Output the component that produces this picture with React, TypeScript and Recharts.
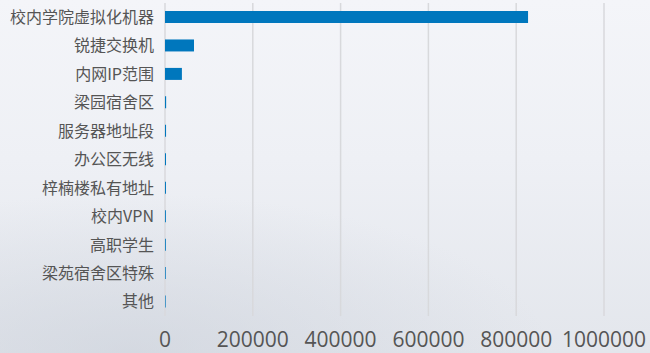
import { Bar, BarChart, CartesianGrid, XAxis, YAxis } from 'recharts';

const categories = [
  '校内学院虚拟化机器',
  '锐捷交换机',
  '内网IP范围',
  '梁园宿舍区',
  '服务器地址段',
  '办公区无线',
  '梓楠楼私有地址',
  '校内VPN',
  '高职学生',
  '梁苑宿舍区特殊',
  '其他',
];
const counts = [827000, 66000, 38500, 2600, 2400, 2300, 2200, 2000, 1900, 1700, 1500];
const xTicks = [0, 200000, 400000, 600000, 800000, 1000000];

const data = categories.map((name, i) => ({ name, count: counts[i] }));

export default function App() {
  return (
    <div
      style={{
        position: 'absolute',
        left: 0,
        top: 0,
        width: 650,
        height: 353,
        background:
          'radial-gradient(ellipse 420px 160px at 20% 100%, rgba(200,206,216,0.55), rgba(200,206,216,0) 100%), linear-gradient(180deg, #f4f5f9 0%, #eef0f5 45%, #e3e6ec 100%)',
      }}
    >
      <BarChart
        width={650}
        height={353}
        data={data}
        layout="vertical"
        margin={{ top: 3, right: 46, left: 0, bottom: 0 }}
        barSize={12}
      >
        <CartesianGrid horizontal={false} stroke="#d8d9dc" strokeWidth={1.5} />
        <XAxis
          type="number"
          domain={[0, 1000000]}
          ticks={xTicks}
          interval={0}
          axisLine={false}
          tickLine={false}
          tickSize={0}
          tickMargin={16}
          height={37}
          tick={{ fill: '#555', fontSize: 21, fontFamily: "'Segoe UI', 'Open Sans', sans-serif" }}
        />
        <YAxis
          type="category"
          dataKey="name"
          width={165}
          axisLine={false}
          tickLine={false}
          tickSize={0}
          tickMargin={11}
          interval={0}
          tick={{ fill: '#555', fontSize: 16, fontFamily: "'Noto Sans CJK SC', sans-serif" }}
        />
        <Bar dataKey="count" fill="#0077bd" isAnimationActive={false} />
      </BarChart>
    </div>
  );
}
